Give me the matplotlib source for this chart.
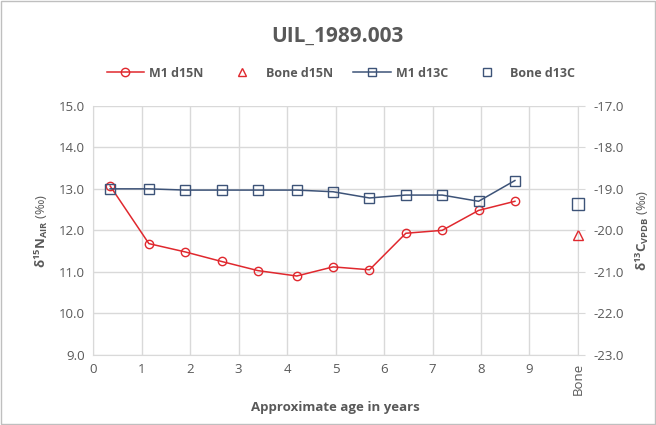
import matplotlib
matplotlib.use("Agg")
import matplotlib.pyplot as plt
from matplotlib.lines import Line2D

plt.rcParams['font.family'] = ['Open Sans', 'DejaVu Sans']
plt.rcParams['mathtext.fontset'] = 'custom'
plt.rcParams['mathtext.rm'] = 'Open Sans'
plt.rcParams['mathtext.bf'] = 'Open Sans:bold'
plt.rcParams['mathtext.it'] = 'Open Sans:italic'

age = [0.35, 1.15, 1.9, 2.65, 3.4, 4.2, 4.95, 5.7, 6.45, 7.2, 7.95, 8.7]
m1_d15n = [13.07, 11.68, 11.48, 11.25, 11.03, 10.9, 11.12, 11.05, 11.93, 12.0, 12.48, 12.7]
m1_d13c = [-19.0, -19.0, -19.03, -19.03, -19.03, -19.03, -19.07, -19.22, -19.15, -19.15, -19.3, -18.8]
bone_x = [10.0]
bone_d15n = [11.9]
bone_d13c = [-19.37]
xtick_vals = [0, 1, 2, 3, 4, 5, 6, 7, 8, 9, 10]
xtick_labels = ['0', '1', '2', '3', '4', '5', '6', '7', '8', '9', 'Bone']

RED = '#E0282E'
BLUE = '#3D5378'
GRAY = '#595959'
GRID = '#D9D9D9'

fig = plt.figure(figsize=(6.56, 4.25), dpi=100)
fig.patches.append(plt.Rectangle((0.002, 0.002), 0.996, 0.996, transform=fig.transFigure,
                                 fill=False, edgecolor='#BFBFBF', lw=1))
ax = fig.add_axes([0.142, 0.165, 0.739, 0.586])
ax2 = ax.twinx()

ax.plot(age, m1_d15n, color=RED, lw=1.1, marker='o', ms=6, mfc='none', mec=RED, mew=1.0, zorder=3)
ax.plot(bone_x, bone_d15n, ls='none', marker='^', ms=7, mfc='none', mec=RED, mew=1.0, clip_on=False, zorder=3)
ax2.plot(age, m1_d13c, color=BLUE, lw=1.1, marker='s', ms=6.5, mfc='none', mec=BLUE, mew=1.0, zorder=3)
ax2.plot(bone_x, bone_d13c, ls='none', marker='s', ms=8, mfc='none', mec=BLUE, mew=1.0, clip_on=False, zorder=3)

ax.set_xlim(0, 10)
ax.set_ylim(9, 15)
ax2.set_ylim(-23, -17)
ax.set_xticks(xtick_vals)
ax.set_xticklabels(xtick_labels)
ax.get_xticklabels()[-1].set_rotation(90)
ax.set_yticks([9, 10, 11, 12, 13, 14, 15])
ax.set_yticklabels([f'{v:.1f}' for v in [9, 10, 11, 12, 13, 14, 15]])
ax2.set_yticks([-23, -22, -21, -20, -19, -18, -17])
ax2.set_yticklabels([f'{v:.1f}' for v in [-23, -22, -21, -20, -19, -18, -17]])

ax.grid(True, color=GRID, lw=1)
ax.set_axisbelow(True)
for a in (ax, ax2):
    for s in a.spines.values():
        s.set_visible(False)
    a.tick_params(length=0, colors=GRAY, labelsize=9.5, pad=6)
for side in ('bottom', 'left', 'right'):
    ax.spines[side].set_visible(True)
    ax.spines[side].set_color(GRID)
ax2.tick_params(axis='y', length=5, color=GRID, direction='out')

ax.set_xlabel('Approximate age in years', color=GRAY, fontsize=9.5, fontweight='bold', labelpad=4)
ax.set_ylabel(r'$\mathbf{\delta^{15}N_{AIR}}$ (‰)', color=GRAY, fontsize=9.5, labelpad=6)
ax2.set_ylabel(r'$\mathbf{\delta^{13}C_{VPDB}}$ (‰)', color=GRAY, fontsize=9.5, rotation=90)
ax2.yaxis.set_label_coords(1.115, 0.5)

fig.text(0.515, 0.915, 'UIL_1989.003', ha='center', va='center', fontsize=15, fontweight='bold', color=GRAY)

handles = [
    Line2D([], [], color=RED, lw=1.1, marker='o', ms=6, mfc='none', mec=RED),
    Line2D([], [], ls='none', marker='^', ms=6, mfc='none', mec=RED),
    Line2D([], [], color=BLUE, lw=1.1, marker='s', ms=6, mfc='none', mec=BLUE),
    Line2D([], [], ls='none', marker='s', ms=6, mfc='none', mec=BLUE),
]
labels = ['M1 d15N', 'Bone d15N', 'M1 d13C', 'Bone d13C']
leg = fig.legend(handles, labels, loc='center', bbox_to_anchor=(0.52, 0.828), ncol=4, frameon=False,
                 fontsize=9, handlelength=3, columnspacing=1.6, handletextpad=0.4)
for t in leg.get_texts():
    t.set_color(GRAY)
    t.set_fontweight('bold')

fig.savefig('out.png', dpi=100)
